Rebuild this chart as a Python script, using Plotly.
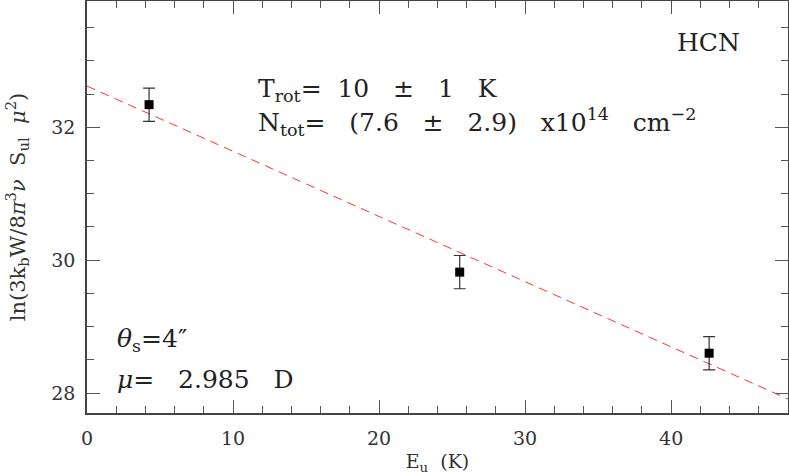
import plotly.graph_objects as go

# Rotation diagram data (HCN)
eu = [4.25, 25.52, 42.6]
ln_n = [32.34, 29.82, 28.60]
ln_err = [0.25, 0.25, 0.25]

# Fitted line end points
fit_x = [0, 48]
fit_y = [32.62, 27.91]

serif = "DejaVu Serif"
sp = "\u00a0"
s2 = sp * 2
s3 = sp * 3

fig = go.Figure()

fig.add_trace(go.Scatter(
    x=fit_x, y=fit_y, mode="lines",
    line=dict(color="#ff3333", width=1, dash="9px,6px"),
    showlegend=False,
))

fig.add_trace(go.Scatter(
    x=eu, y=ln_n, mode="markers",
    marker=dict(symbol="square", size=9, color="black"),
    error_y=dict(type="data", array=ln_err, visible=True,
                 color="#333333", thickness=1.2, width=6),
    showlegend=False,
))

# Annotations
notes = [
    dict(x=0.935, y=0.90, text="HCN", xanchor="right"),
    dict(x=0.241, y=0.784, text=f"T<sub>rot</sub>={s2}10{s3}\u00b1{s3}1{s3}K", xanchor="left"),
    dict(x=0.241, y=0.706,
         text=f"N<sub>tot</sub>={s3}(7.6{s3}\u00b1{s3}2.9){s3}x10<sup>14</sup>{s3}cm<sup>\u22122</sup>",
         xanchor="left"),
    dict(x=0.04, y=0.177, text="<i>\u03b8</i><sub>s</sub>=4\u2033", xanchor="left"),
    dict(x=0.04, y=0.082, text=f"<i>\u03bc</i>={s3}2.985{s3}D", xanchor="left"),
]
for n in notes:
    fig.add_annotation(
        x=n["x"], y=n["y"], xref="paper", yref="paper",
        text=n["text"], xanchor=n["xanchor"], yanchor="middle",
        showarrow=False, font=dict(family=serif, size=25, color="#222222"),
    )

axis_common = dict(
    showgrid=False, zeroline=False, automargin=False,
    showline=True, linecolor="#444444", linewidth=1.5, mirror="allticks",
    ticks="inside", ticklen=13, tickwidth=1, tickcolor="#555555",
    tickfont=dict(family=serif, size=19, color="#333333"),
)

fig.update_xaxes(
    range=[0, 48], dtick=10, tick0=0,
    minor=dict(dtick=2, ticks="inside", ticklen=7, tickcolor="#555555"),
    title=dict(text=f"E<sub>u</sub>{s2}(K)", font=dict(family=serif, size=19, color="#333333"), standoff=12),
    ticklabelstandoff=7,
    **axis_common,
)
fig.update_yaxes(
    range=[27.7, 33.9], dtick=2, tick0=0,
    minor=dict(dtick=0.5, ticks="inside", ticklen=7, tickcolor="#555555"),
    title=dict(text=f"ln(3k<sub>b</sub>W/8<i>\u03c0</i><sup>3</sup><i>\u03bd</i>{s2}S<sub>ul</sub>{s2}<i>\u03bc</i><sup>2</sup>)",
               font=dict(family=serif, size=21, color="#333333"), standoff=20),
    ticklabelstandoff=6,
    **axis_common,
)

fig.update_layout(
    width=789, height=475,
    margin=dict(l=87, r=1, t=1, b=62),
    plot_bgcolor="white", paper_bgcolor="white",
)

# page margin off so the figure sits at the window corner
fig.write_html("out.html", config={"displayModeBar": False},
               post_script="document.body.style.margin='0px';")
